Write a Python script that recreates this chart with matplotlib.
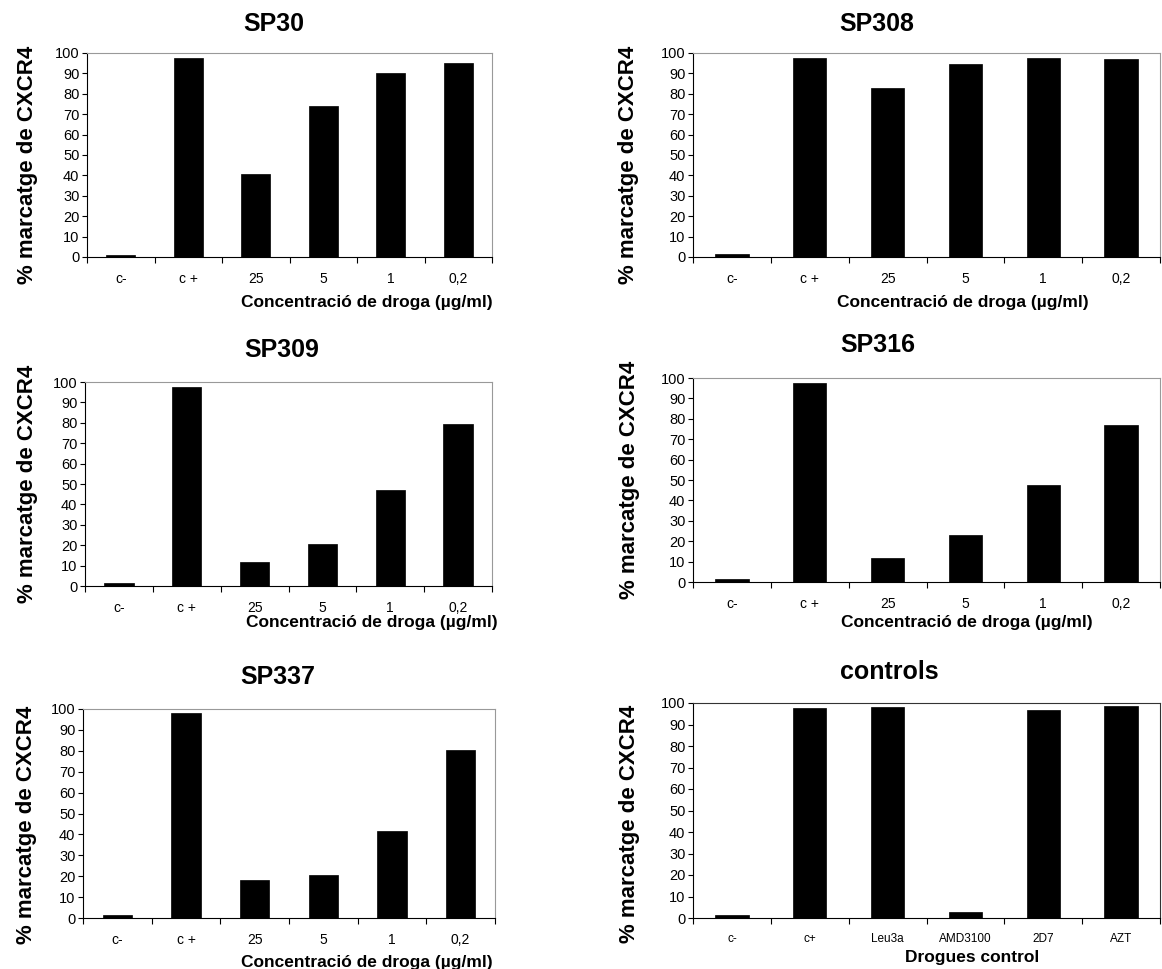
import matplotlib
matplotlib.use("Agg")
import matplotlib.pyplot as plt
from matplotlib.ticker import FixedLocator

plt.rcParams["font.family"] = ["Liberation Sans", "DejaVu Sans"]

W, H = 1162, 969

conc_labels = ["c-", "c +", "25", "5", "1", "0,2"]
control_labels = ["c-", "c+", "Leu3a", "AMD3100", "2D7", "AZT"]

sp30 = [0.8, 97.4, 40.8, 74.1, 90.2, 95.2]
sp308 = [1.6, 97.7, 83.0, 94.4, 97.5, 97.0]
sp309 = [1.6, 97.5, 11.8, 20.6, 47.1, 79.2]
sp316 = [1.6, 97.5, 11.8, 23.0, 47.7, 76.8]
sp337 = [1.4, 97.9, 18.0, 20.4, 41.5, 80.2]
controls = [1.2, 97.7, 98.3, 2.6, 96.6, 98.8]

XLABEL_CONC = "Concentració de droga (µg/ml)"
XLABEL_CTRL = "Drogues control"
YLABEL = "% marcatge de CXCR4"

# title, values, labels, xlabel, box (left, right, top, bottom in px),
# title pos, xlabel pos, ylabel pos (axes coords), top spine colour
panels = [
    ("SP30", sp30, conc_labels, XLABEL_CONC, (87, 492, 53, 257),
     (0.46, 1.103), (0.69, -0.225), (-0.148, 0.45), "#999999"),
    ("SP308", sp308, conc_labels, XLABEL_CONC, (693, 1160, 53, 257),
     (0.394, 1.103), (0.578, -0.225), (-0.139, 0.45), "#999999"),
    ("SP309", sp309, conc_labels, XLABEL_CONC, (85, 492, 382, 586),
     (0.484, 1.118), (0.705, -0.18), (-0.142, 0.5), "#999999"),
    ("SP316", sp316, conc_labels, XLABEL_CONC, (693, 1160, 378, 582),
     (0.396, 1.123), (0.587, -0.2), (-0.135, 0.5), "#999999"),
    ("SP337", sp337, conc_labels, XLABEL_CONC, (83, 495, 709, 918),
     (0.473, 1.115), (0.69, -0.215), (-0.136, 0.445), "#999999"),
    ("controls", controls, control_labels, XLABEL_CTRL, (693, 1160, 703, 918),
     (0.42, 1.107), (0.597, -0.186), (-0.135, 0.44), "#333333"),
]

fig = plt.figure(figsize=(W / 100, H / 100), dpi=100, facecolor="white")

for (title, vals, labels, xlabel, box, tpos, xlpos, ylpos, topcol) in panels:
    left, right, top, bottom = box
    ax = fig.add_axes([left / W, 1 - bottom / H, (right - left) / W, (bottom - top) / H])
    x = list(range(len(vals)))
    ax.bar(x, vals, width=0.43, color="black", edgecolor="black", linewidth=0.5)

    ax.set_xlim(-0.5, len(vals) - 0.5)
    ax.set_ylim(0, 100)
    ax.set_yticks(range(0, 101, 10))

    # ticks between categories, labels centred under the bars
    ax.xaxis.set_major_locator(FixedLocator([i - 0.5 for i in range(len(vals) + 1)]))
    ax.xaxis.set_major_formatter(plt.NullFormatter())
    ax.xaxis.set_minor_locator(FixedLocator(x))
    ax.set_xticklabels(labels, minor=True)
    small = 8.5 if title == "controls" else 10
    ax.tick_params(axis="x", which="minor", length=0, pad=11, labelsize=small)
    ax.tick_params(axis="x", which="major", length=4, width=0.8, direction="out")
    ax.tick_params(axis="y", length=3.5, width=0.8, direction="out", labelsize=10.5, pad=2)

    for s in ["left", "bottom"]:
        ax.spines[s].set_color("black")
        ax.spines[s].set_linewidth(0.8)
    for s in ["top", "right"]:
        ax.spines[s].set_color(topcol)
        ax.spines[s].set_linewidth(0.8)

    ax.set_title(title, x=tpos[0], y=tpos[1], va="center",
                 fontsize=18, fontweight="bold")
    ax.set_xlabel(xlabel, fontsize=12.5, fontweight="bold")
    ax.xaxis.set_label_coords(*xlpos)
    ax.xaxis.label.set_verticalalignment("center")
    ax.set_ylabel(YLABEL, fontsize=16, fontweight="bold")
    ax.yaxis.set_label_coords(*ylpos)
    ax.yaxis.label.set_verticalalignment("center")

fig.savefig("out.png", dpi=100)
